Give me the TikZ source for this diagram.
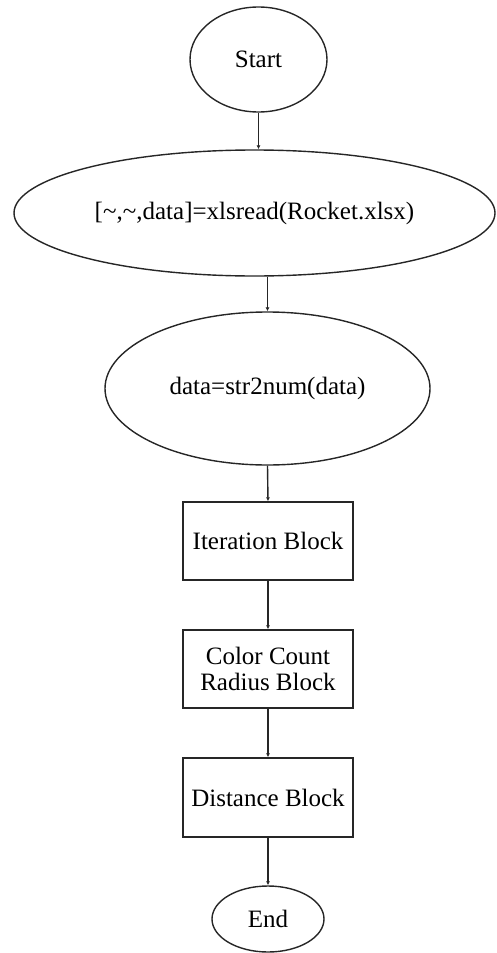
\documentclass[tikz,border=0pt]{standalone}
\usepackage{fontspec}
\setmainfont{Liberation Serif}
\usetikzlibrary{shapes.geometric,arrows.meta}
\begin{document}
\begin{tikzpicture}[x=1pt,y=-1pt,
  base/.style={draw=black!85,line width=1.4pt,inner sep=0pt,align=center,
    font=\fontsize{25}{29}\selectfont},
  oval/.style={base,ellipse},
  blockbox/.style={base,rectangle,minimum width=170pt,minimum height=78pt},
  conn/.style={draw=black!85,line width=1.4pt,-{Latex[length=4pt,width=4pt]}}]
\useasboundingbox (0,0) rectangle (496,953);
\node[oval,minimum width=137pt,minimum height=105pt] (start) at (258.5,59.5) {Start};
\node[oval,minimum width=481pt,minimum height=126pt] (read) at (254.5,213) {[\char`\~,\char`\~,data]=xlsread(Rocket.xlsx)};
\node[oval,minimum width=325pt,minimum height=153pt] (conv) at (267.5,388.5) {data=str2num(data)};
\node[blockbox] (iter) at (268,541) {Iteration Block};
\node[blockbox] (color) at (268,669) {Color Count\\[-3pt]Radius Block};
\node[blockbox,minimum height=79pt] (dist) at (268,797.5) {Distance Block};
\node[oval,minimum width=112pt,minimum height=66pt] (end) at (268,919) {End};
\draw[conn] (start.south) -- (start.south |- read.north);
\draw[conn] (conv.north |- read.south) -- (conv.north);
\draw[conn] (conv.south) -- (iter.north);
\draw[conn] (iter.south) -- (color.north);
\draw[conn] (color.south) -- (dist.north);
\draw[conn] (dist.south) -- (end.north);
\end{tikzpicture}
\end{document}
